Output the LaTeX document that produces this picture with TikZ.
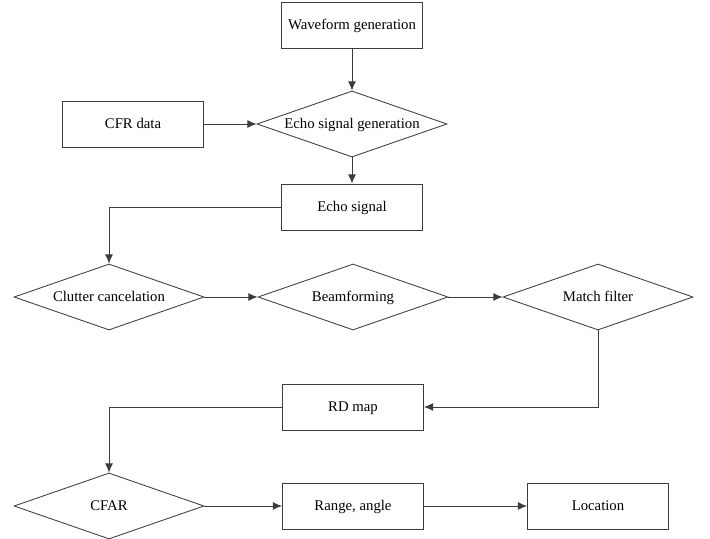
\documentclass[tikz,border=0pt]{standalone}
\usepackage{fontspec}
\setmainfont{Liberation Serif}
\usepackage{tikz}
\usetikzlibrary{arrows}
\usetikzlibrary{arrows.meta}
\usetikzlibrary{shapes}
\usetikzlibrary{shapes.geometric}
\tikzset{>=latex}
\definecolor{linegray}{RGB}{60,60,60}
\tikzstyle{blk} = [rectangle, draw=linegray, line width=0.6pt, minimum width=3.53cm, minimum height=1.15cm, inner sep=0, text height=1.7ex, text depth=0.45ex, font=\fontsize{10.5}{12}\selectfont]
\tikzstyle{dec} = [diamond, draw=linegray, line width=0.6pt, shape aspect=2.9, minimum width=4.75cm, minimum height=1.65cm, inner sep=0, text height=1.7ex, text depth=0.45ex, font=\fontsize{10.5}{12}\selectfont]
\tikzstyle{flow} = [-{Latex[length=2.3mm,width=2mm]}, draw=linegray, line width=0.6pt]

\begin{document}
\begin{tikzpicture}[x=0.025cm, y=-0.025cm]
\useasboundingbox (0,0) rectangle (710,539);
% top part
\node [blk] (wave) at (352, 25) {Waveform generation};
\node [blk] (cfr) at (133, 124) {CFR data};
\node [dec] (echogen) at (352, 124) {Echo signal generation};
\node [blk] (echosig) at (352, 207) {Echo signal};
% processing chain
\node [dec] (clutter) at (109, 297) {Clutter cancelation};
\node [dec] (beam) at (353, 297) {Beamforming};
\node [dec] (match) at (598, 297) {Match filter};
\node [blk] (rdmap) at (353, 407) {RD map};
% detection
\node [dec] (cfar) at (109, 506) {CFAR};
\node [blk] (range) at (353, 506) {Range, angle};
\node [blk] (loc) at (598, 506) {Location};
\draw [flow] (wave) to (echogen);
\draw [flow] (cfr) to (echogen);
\draw [flow] (echogen) to (echosig);
\draw [flow] (echosig.west) -| (clutter.north);
\draw [flow] (clutter) to (beam);
\draw [flow] (beam) to (match);
\draw [flow] (match.south) |- (rdmap.east);
\draw [flow] (rdmap.west) -| (cfar.north);
\draw [flow] (cfar) to (range);
\draw [flow] (range) to (loc);
\end{tikzpicture}
\end{document}
